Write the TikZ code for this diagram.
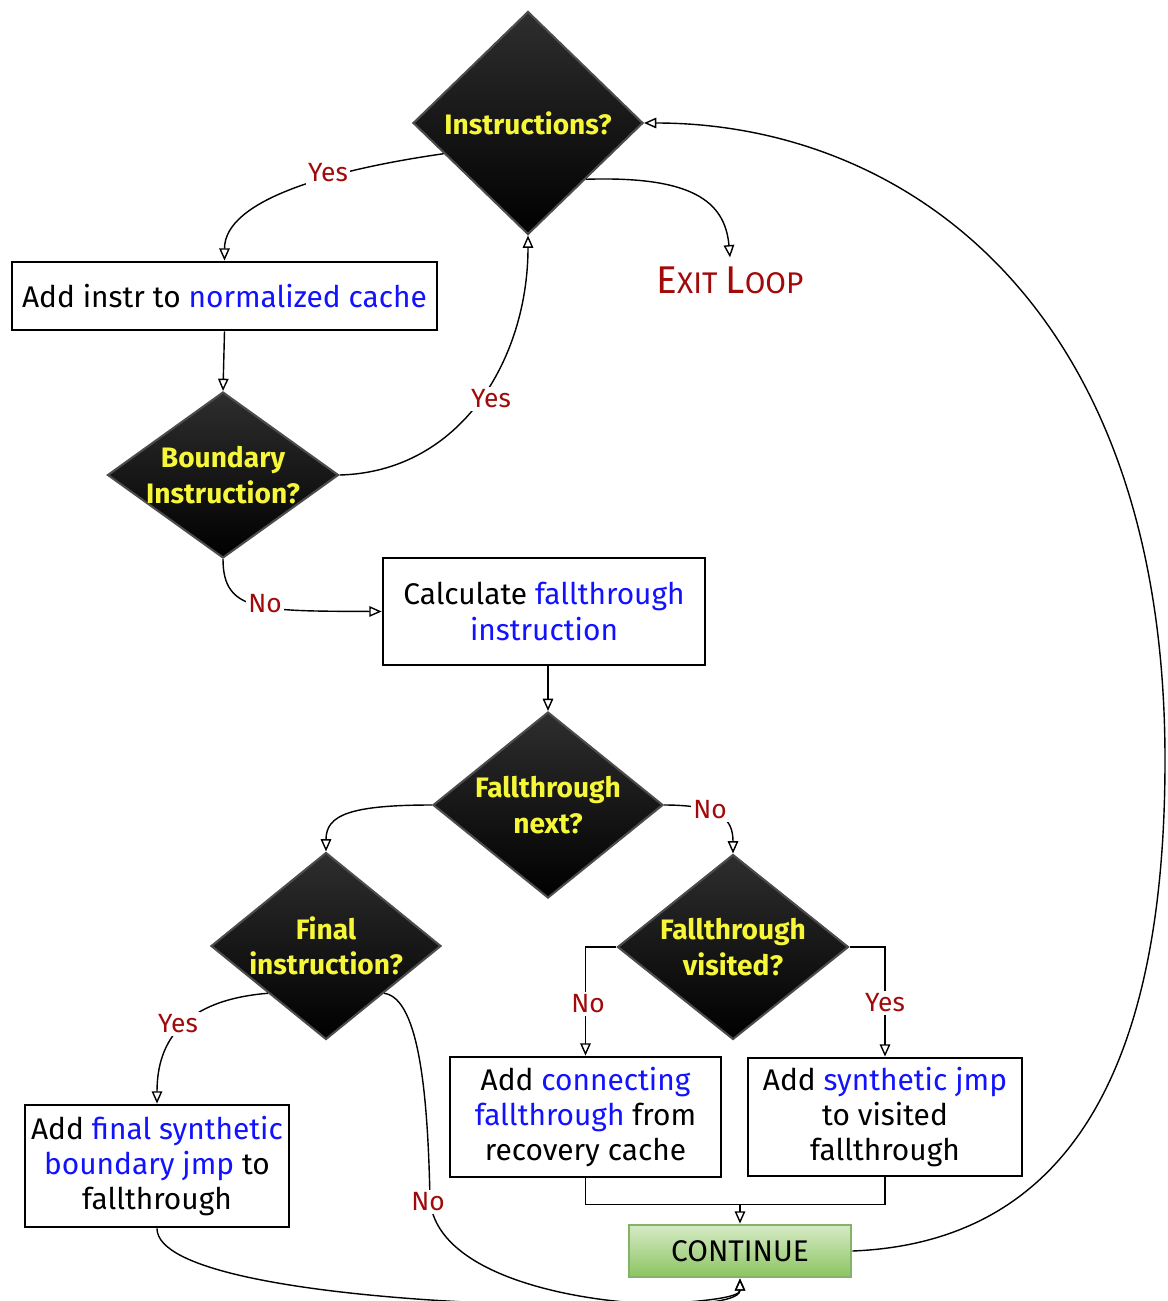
\documentclass[tikz,border=0pt]{standalone}
\usepackage{fontspec}
\setmainfont{Fira Sans}
\usetikzlibrary{shapes.geometric,arrows.meta}
\definecolor{hlblue}{HTML}{1212FF}
\definecolor{lblred}{HTML}{A00A0A}
\definecolor{qyellow}{HTML}{F7F73A}
\definecolor{contA}{HTML}{D6EBC6}
\definecolor{contB}{HTML}{8CC460}
\definecolor{contline}{HTML}{82B366}
\newcommand{\hiword}[1]{\textcolor{hlblue}{#1}}
\begin{document}
\begin{tikzpicture}[x=0.02cm,y=-0.02cm,
  every node/.style={inner sep=0pt},
  question/.style={diamond, draw=black!70, line width=1.2pt, top color=black!82, bottom color=black},
  qtext/.style={text=qyellow, font=\fontsize{16}{20}\selectfont\bfseries, align=center},
  actbox/.style={rectangle, draw=black, line width=1.6pt, fill=white, align=center,
    font=\fontsize{17}{20}\selectfont},
  lbl/.style={text=lblred, fill=white, inner sep=1.5pt, font=\fontsize{15}{18}\selectfont},
  conn/.style={draw=black, line width=0.8pt, -{Triangle[open,length=7pt,width=6pt]}},
  plainline/.style={draw=black, line width=0.8pt}]
\useasboundingbox (0,0) rectangle (1167,1301);

% nodes
\node[question, minimum width=4.6cm, minimum height=4.46cm,
  label={[qtext]center:Instructions?}] (q1) at (528,123) {};
\node[actbox, minimum width=8.5cm, minimum height=1.36cm] (b1) at (224.5,296) {Add instr to \hiword{normalized cache}};
\node[question, minimum width=4.62cm, minimum height=3.32cm,
  label={[qtext]center:{Boundary\\Instruction?}}] (d2) at (223,475) {};
\node[actbox, minimum width=6.44cm, minimum height=2.14cm] (calc) at (544,611.5) {Calculate \hiword{fallthrough}\\\hiword{instruction}};
\node[question, minimum width=4.6cm, minimum height=3.72cm,
  label={[qtext]center:{Fallthrough\\next?}}] (d3) at (548,805) {};
\node[question, minimum width=4.6cm, minimum height=3.74cm,
  label={[qtext]center:{Final\\instruction?}}] (d4) at (326,946) {};
\node[question, minimum width=4.62cm, minimum height=3.7cm,
  label={[qtext]center:{Fallthrough\\visited?}}] (d5) at (733,947) {};
\node[actbox, minimum width=5.42cm, minimum height=2.4cm] (b8) at (585.5,1117) {Add \hiword{connecting}\\\hiword{fallthrough} from\\recovery cache};
\node[actbox, minimum width=5.48cm, minimum height=2.36cm] (b9) at (885,1117) {Add \hiword{synthetic jmp}\\to visited\\fallthrough};
\node[actbox, minimum width=5.28cm, minimum height=2.44cm] (b10) at (157,1166) {Add \hiword{final synthetic}\\\hiword{boundary jmp} to\\fallthrough};
\node[rectangle, draw=contline, line width=1.6pt, top color=contA, bottom color=contB,
  minimum width=4.44cm, minimum height=1.04cm, font=\fontsize{17}{20}\selectfont] (cont) at (740,1251) {CONTINUE};
\node[text=lblred, inner sep=5pt] (exit) at (730,280) {\fontsize{22}{26}\selectfont E\fontsize{17}{20}\selectfont XIT \fontsize{22}{26}\selectfont L\fontsize{17}{20}\selectfont OOP};

% connectors
\draw[conn] (q1.200) .. controls (330,170) and (224.5,200) .. (b1.north);
\draw[conn] (q1.south east) .. controls (690,176) and (725,200) .. (exit.north);
\draw[conn] (b1.south) -- (d2.north);
\draw[conn] (d2.east) .. controls (460,472) and (528,360) .. (q1.south);
\draw[conn] (d2.south) .. controls (223,612) and (260,611) .. (calc.west);
\draw[conn] (d3.north |- calc.south) -- (d3.north);
\draw[conn] (d3.west) .. controls (350,805) and (326,815) .. (d4.north);
\draw[conn] (d3.east) .. controls (722,805) and (733,820) .. (d5.north);
\draw[conn] (d5.west) -| (b8.north);
\draw[conn] (d5.east) -| (b9.north);
\draw[conn] (d4.south west) .. controls (185,1000) and (157,1040) .. (b10.north);
\draw[conn] (d4.south east) .. controls (420,998) and (428,1100) .. (430,1200)
  .. controls (440,1312) and (740,1318) .. (cont.south);
\draw[conn] (b10.south) .. controls (157,1312) and (740,1318) .. (cont.south);
\draw[plainline] (b8.south) -- ++(0,26) coordinate (join) -| (b9.south);
\draw[conn] (cont.north |- join) -- (cont.north);
\draw[conn] (cont.east) .. controls (1080,1242) and (1165,1050) .. (1165,760)
  .. controls (1165,300) and (900,123) .. (q1.east);

% labels
\node[lbl] (yes1) at (328,173) {Yes};
\node[lbl] (yes2) at (491,399) {Yes};
\node[lbl] (no1) at (265,604) {No};
\node[lbl] (no2) at (710,810) {No};
\node[lbl] (no3) at (588,1004) {No};
\node[lbl] (yes3) at (885,1003) {Yes};
\node[lbl] (yes4) at (178,1024) {Yes};
\node[lbl] (no4) at (428,1202) {No};
\end{tikzpicture}
\end{document}
